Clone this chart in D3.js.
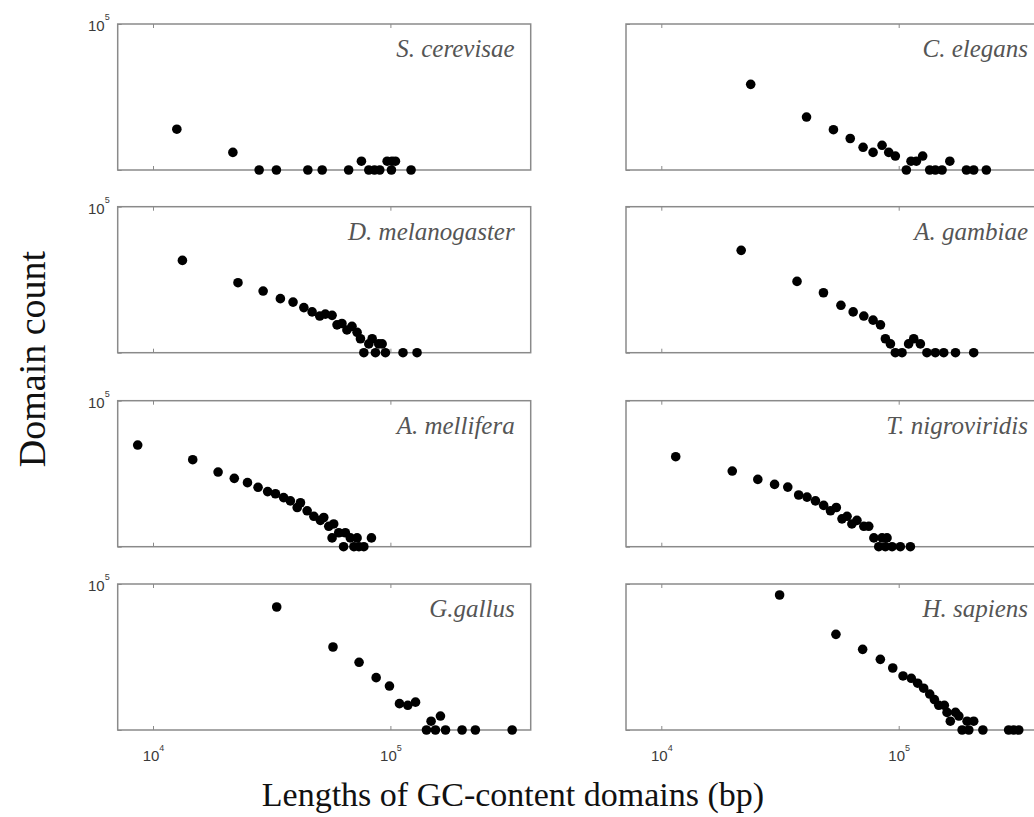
<!DOCTYPE html>
<html>
<head>
<meta charset="utf-8">
<script src="https://cdn.jsdelivr.net/npm/d3@7"></script>
<style>
body { margin: 0; background: #fff; }
svg { display: block; }
</style>
</head>
<body>
<svg id="chart"></svg>
<script>
// [domain length (bp), domain count] pairs
const sCerevisae = [[12600,25],[21700,4],[28000,1],[33100,1],[44900,1],[51600,1],[66700,1],[75500,2],[81100,1],[85700,1],[90200,1],[96900,2],[101000,1],[101600,2],[105000,2],[122200,1]];
const cElegans = [[23800,859],[40900,65],[53100,24],[62500,12],[70800,6],[78000,4],[85100,7],[90800,4],[96800,3],[107700,1],[112700,2],[118700,2],[126200,3],[135100,1],[142700,1],[152300,1],[164200,2],[192900,1],[207000,1],[234000,1]];
const dMelanogaster = [[13300,1450],[22800,250],[29100,129],[34400,71],[38900,54],[43200,35],[46800,25],[50400,18],[53200,21],[56800,19],[59600,9],[62500,10],[65600,6],[68900,8],[72400,5],[74800,3],[77300,1],[81100,2],[83800,3],[86500,1],[89300,2],[92300,2],[95300,1],[113000,1],[129500,1]];
const aGambiae = [[21700,3200],[37300,277],[48200,113],[57100,42],[64300,25],[71300,18],[78000,13],[83800,9],[87900,3],[92300,2],[96800,1],[103300,1],[110100,2],[115700,3],[123400,2],[131500,1],[142700,1],[154800,1],[173500,1],[207000,1]];
const aMellifera = [[8620,3030],[14700,954],[18800,361],[22000,219],[25000,156],[27700,108],[30400,77],[32800,65],[35500,48],[37900,37],[40500,22],[41800,32],[44600,17],[47600,11],[50700,8],[52400,10],[55000,5],[56800,2],[57700,6],[60600,3],[63500,1],[64600,3],[67800,2],[70200,1],[72400,2],[73700,1],[77300,1],[83200,2]];
const tNigroviridis = [[11500,1210],[19900,390],[25500,202],[30000,136],[34100,110],[37900,59],[41100,50],[44600,37],[48300,26],[51600,17],[54600,22],[57700,9],[60600,11],[63500,6],[66700,8],[71300,5],[74800,5],[78600,2],[82400,1],[85100,2],[87900,1],[89300,2],[93800,1],[101600,1],[112000,1]];
const gGallus = [[33200,16300],[57300,696],[73800,208],[87100,62],[99100,32],[109200,8],[118400,7],[127600,9],[141900,1],[148400,2],[154800,1],[162500,3],[170700,1],[200400,1],[228000,1],[325800,1]];
const hSapiens = [[31500,42000],[54400,1890],[70500,579],[83700,263],[94400,133],[104300,71],[113000,59],[120200,40],[127400,27],[135100,17],[141400,11],[147500,7],[155700,7],[159800,4],[165000,2],[173500,4],[179200,3],[185000,1],[194100,2],[197400,1],[207000,2],[226300,1],[290500,1],[305000,1],[320500,1]];

const speciesNames = ["S. cerevisae", "C. elegans", "D. melanogaster", "A. gambiae",
                      "A. mellifera", "T. nigroviridis", "G.gallus", "H. sapiens"];
const speciesData = [sCerevisae, cElegans, dMelanogaster, aGambiae,
                     aMellifera, tNigroviridis, gGallus, hSapiens];
const xTicks = [1e4, 1e5];
const yTicks = [1, 1e5];

const width = 1034, height = 817;
const colLeft = [117.7, 626];
const rowTop = [24, 206.7, 400.7, 584];
const panelW = 413, panelH = 146;
const labelPad = [16, 11];

let svg = d3.select('#chart')
    .attr('width', width)
    .attr('height', height);
svg.append('rect').attr('width', width).attr('height', height).attr('fill', '#fff');

let x = d3.scaleLog().domain([7100, 390000]).range([0, panelW]);
let y = d3.scaleLog().domain([1, 1e5]).range([panelH, 0]);

function power(sel, raise) {
    // turn the tick text into 10 with a raised exponent
    sel.each(function (d) {
        let t = d3.select(this);
        t.text('10');
        t.append('tspan')
            .attr('dy', -raise)
            .attr('font-size', '9px')
            .text(Math.round(Math.log10(d)));
    });
}

for (let i = 0; i < speciesNames.length; i++) {
    let col = i % 2, row = Math.floor(i / 2);
    let g = svg.append('g')
        .attr('transform', 'translate(' + colLeft[col] + ',' + rowTop[row] + ')');

    g.append('rect')
        .attr('width', panelW)
        .attr('height', panelH)
        .attr('fill', 'none')
        .attr('stroke', '#8a8a8a')
        .attr('stroke-width', 1.5);

    let bottom = g.append('g')
        .attr('transform', 'translate(0,' + panelH + ')')
        .call(d3.axisBottom(x).tickValues(xTicks).tickSize(-4).tickPadding(20));
    let top = g.append('g')
        .call(d3.axisTop(x).tickValues(xTicks).tickSize(-4).tickFormat(''));
    let left = g.append('g')
        .call(d3.axisLeft(y).tickValues(yTicks).tickSize(-4).tickPadding(8));

    [bottom, top, left].forEach(a => {
        a.select('.domain').remove();
        a.selectAll('line').attr('stroke', '#8a8a8a');
        a.selectAll('text').attr('fill', '#3a3a3a')
            .attr('font-family', '"Liberation Sans", Arial, sans-serif')
            .attr('font-size', '15px');
    });

    if (row === 3) bottom.selectAll('text').call(power, 10);
    else bottom.selectAll('text').remove();

    left.selectAll('.tick').filter(d => d !== 1e5 || col === 1).select('text').remove();
    left.selectAll('text').attr('dy', '0.45em').call(power, 11);

    g.append('text')
        .attr('x', panelW - labelPad[col])
        .attr('y', 33)
        .attr('text-anchor', 'end')
        .attr('font-family', '"Liberation Serif", "Times New Roman", serif')
        .attr('font-style', 'italic')
        .attr('font-size', '25px')
        .attr('fill', '#555')
        .text(speciesNames[i]);

    g.selectAll('circle')
        .data(speciesData[i])
        .enter()
        .append('circle')
        .attr('cx', d => x(d[0]))
        .attr('cy', d => y(d[1]))
        .attr('r', 4.8)
        .attr('fill', '#000');
}

svg.append('text')
    .attr('transform', 'translate(32,359) rotate(-90)')
    .attr('text-anchor', 'middle')
    .attr('dy', '0.35em')
    .attr('font-family', '"Liberation Serif", "Times New Roman", serif')
    .attr('font-size', '38px')
    .attr('fill', '#111')
    .text('Domain count');

svg.append('text')
    .attr('x', 513)
    .attr('y', 806)
    .attr('text-anchor', 'middle')
    .attr('font-family', '"Liberation Serif", "Times New Roman", serif')
    .attr('font-size', '34px')
    .attr('fill', '#111')
    .text('Lengths of GC-content domains (bp)');
</script>
</body>
</html>
